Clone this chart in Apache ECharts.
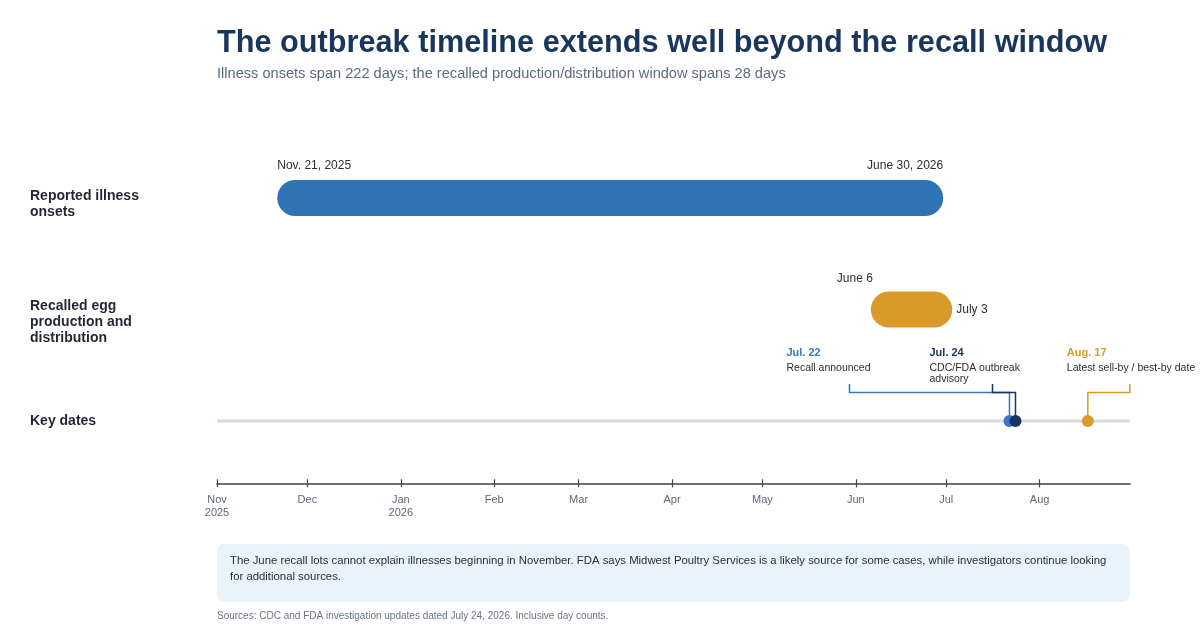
<!DOCTYPE html>
<html>
<head>
<meta charset="utf-8">
<script src="https://cdn.jsdelivr.net/npm/echarts@6/dist/echarts.min.js"></script>
<style>
html,body{margin:0;padding:0;background:#fff;}
#chart{width:1200px;height:633px;}
</style>
</head>
<body>
<div id="chart"></div>
<script>
// ---------------- DATA ----------------
const rowLabels = ['Key dates', 'Recalled egg\nproduction and\ndistribution', 'Reported illness\nonsets'];

const spanRows = [2, 1];
const spanStarts = ['2025-11-21', '2026-06-06'];
const spanEnds = ['2026-06-30', '2026-07-03'];
const spanStartLabels = ['Nov. 21, 2025', 'June 6'];
const spanEndLabels = ['June 30, 2026', 'July 3'];

const keyDates = ['2026-07-22', '2026-07-24', '2026-08-17'];
const keyTitles = ['Jul. 22', 'Jul. 24', 'Aug. 17'];
const keySubtitles = ['Recall announced', 'CDC/FDA outbreak\nadvisory', 'Latest sell-by / best-by date'];

const axisStart = '2025-11-01';
const axisEnd = '2026-08-31';
const monthTicks = ['2025-11-01', '2025-12-01', '2026-01-01', '2026-02-01', '2026-03-01', '2026-04-01',
  '2026-05-01', '2026-06-01', '2026-07-01', '2026-08-01'];
const monthTickLabels = ['Nov\n2025', 'Dec', 'Jan\n2026', 'Feb', 'Mar', 'Apr', 'May', 'Jun', 'Jul', 'Aug'];

const titleText = 'The outbreak timeline extends well beyond the recall window';
const subtitleText = 'Illness onsets span 222 days; the recalled production/distribution window spans 28 days';
const noteText = 'The June recall lots cannot explain illnesses beginning in November. FDA says Midwest Poultry Services is a likely source for some cases, while investigators continue looking\nfor additional sources.';
const sourceText = 'Sources: CDC and FDA investigation updates dated July 24, 2026. Inclusive day counts.';

// ---------------- STYLE / LAYOUT ----------------
const FONT = '"Liberation Sans", Arial, Helvetica, sans-serif';
const spanColors = ['#2e74b5', '#d99a29'];
const keyColors = ['#3579c2', '#17355f', '#d99a29'];
const keyLabelDx = [-223, -86, -21];
const rowLabelShift = [0, 26, 12];

function ts(s) { const p = s.split('-').map(Number); return Date.UTC(p[0], p[1] - 1, p[2]); }

const chart = echarts.init(document.getElementById('chart'));

const spanData = spanRows.map((r, i) => [r, ts(spanStarts[i]), ts(spanEnds[i])]);
const keyData = keyDates.map(d => [ts(d), 0]);
const tickValues = monthTicks.map(ts);

const rich = {};
rowLabels.forEach((l, i) => {
  rich['r' + i] = { fontSize: 14, fontWeight: 'bold', lineHeight: 16, color: '#1f2733', fontFamily: FONT,
    padding: [rowLabelShift[i], 0, 0, 0], align: 'left' };
});

function tickLabel(v) {
  let best = -1, bd = Infinity;
  tickValues.forEach((t, k) => { const d = Math.abs(t - v); if (d < bd) { bd = d; best = k; } });
  return bd < 86400000 ? monthTickLabels[best] : '';
}

const option = {
  animation: false,
  textStyle: { fontFamily: FONT },
  grid: { left: 217, right: 70, top: 142.25, bottom: 156.25 },
  xAxis: [{
    type: 'value',
    min: ts(axisStart),
    max: ts(axisEnd),
    offset: 6.5,
    splitLine: { show: false },
    axisLine: { show: true, lineStyle: { color: '#3e444c', width: 1.6 } },
    axisTick: { show: true, length: 4, customValues: tickValues, lineStyle: { color: '#3e444c', width: 1.2 } },
    axisLabel: {
      color: '#5d6778', fontSize: 11, lineHeight: 13, margin: 10,
      fontFamily: FONT, customValues: tickValues,
      formatter: function (v) { return tickLabel(v); }
    }
  }, {
    type: 'value',
    min: ts(axisStart),
    max: ts(axisEnd),
    offset: 6.5,
    position: 'bottom',
    splitLine: { show: false },
    axisLine: { show: false },
    axisTick: { show: true, inside: true, length: 4, customValues: tickValues, lineStyle: { color: '#3e444c', width: 1.2 } },
    axisLabel: { show: false }
  }],
  yAxis: {
    type: 'category',
    data: rowLabels,
    axisLine: { show: false },
    axisTick: { show: false },
    splitLine: { show: false },
    axisLabel: {
      align: 'left', margin: 187, fontFamily: FONT,
      formatter: function (v, i) {
        return v.split('\n').map(s => '{r' + i + '|' + s + '}').join('\n');
      },
      rich: rich
    }
  },
  series: [
    {
      type: 'line',
      data: [[ts(axisStart), 0], [ts(axisEnd), 0]],
      symbol: 'none',
      silent: true,
      lineStyle: { color: '#d6dce5', width: 3 },
      z: 1
    },
    {
      type: 'custom',
      data: spanData,
      encode: { x: [1, 2], y: 0 },
      z: 3,
      renderItem: function (params, api) {
        const i = params.dataIndex;
        const s = api.coord([api.value(1), api.value(0)]);
        const e = api.coord([api.value(2), api.value(0)]);
        const h = 36;
        const children = [{
          type: 'rect',
          shape: { x: s[0], y: s[1] - h / 2, width: e[0] - s[0], height: h, r: h / 2 },
          style: { fill: spanColors[i] }
        }];
        const lblStyle = { fill: '#2b2f36', fontSize: 12, fontFamily: FONT, verticalAlign: 'middle' };
        if (i === 0) {
          children.push({ type: 'text', style: Object.assign({}, lblStyle, { text: spanStartLabels[i], x: s[0], y: s[1] - 32, align: 'left' }) });
          children.push({ type: 'text', style: Object.assign({}, lblStyle, { text: spanEndLabels[i], x: e[0], y: s[1] - 32, align: 'right' }) });
        } else {
          children.push({ type: 'text', style: Object.assign({}, lblStyle, { text: spanStartLabels[i], x: s[0] + 2, y: s[1] - 30.5, align: 'right' }) });
          children.push({ type: 'text', style: Object.assign({}, lblStyle, { text: spanEndLabels[i], x: e[0] + 4, y: s[1] + 0.5, align: 'left' }) });
        }
        return { type: 'group', children: children };
      }
    },
    {
      type: 'custom',
      data: keyData,
      encode: { x: 0, y: 1 },
      z: 4,
      renderItem: function (params, api) {
        const i = params.dataIndex;
        const p = api.coord([api.value(0), api.value(1)]);
        const lx = p[0] + keyLabelDx[i];
        const leadX = lx + 63;
        const hy = p[1] - 28.5;
        const col = keyColors[i];
        return {
          type: 'group',
          children: [
            {
              type: 'polyline',
              shape: { points: [[leadX, p[1] - 37], [leadX, hy], [p[0], hy], [p[0], p[1]]] },
              style: { stroke: col, lineWidth: 1.5, fill: null }
            },
            { type: 'circle', shape: { cx: p[0], cy: p[1], r: 6 }, style: { fill: col } },
            { type: 'text', style: { text: keyTitles[i], x: lx, y: p[1] - 68, fill: col, fontSize: 11, fontWeight: 'bold', fontFamily: FONT, verticalAlign: 'middle', align: 'left' } },
            { type: 'text', style: { text: keySubtitles[i], x: lx, y: p[1] - 58.5, fill: '#2b2f36', fontSize: 10.5, lineHeight: 11, fontFamily: FONT, verticalAlign: 'top', align: 'left' } }
          ]
        };
      }
    }
  ],
  graphic: [
    { type: 'text', left: 217, top: 28, style: { text: titleText, fill: '#1b365d', fontSize: 30.7, fontWeight: 'bold', fontFamily: FONT } },
    { type: 'text', left: 217, top: 66, style: { text: subtitleText, fill: '#5b6b7f', fontSize: 14.6, fontFamily: FONT } },
    { type: 'rect', shape: { x: 217, y: 544, width: 913, height: 58, r: 8 }, style: { fill: '#eaf2fa' } },
    { type: 'text', x: 230, y: 553, style: { text: noteText, fill: '#2b2f36', fontSize: 11.35, lineHeight: 16, fontFamily: FONT } },
    { type: 'text', x: 217, y: 611, style: { text: sourceText, fill: '#6b7585', fontSize: 10, fontFamily: FONT } }
  ]
};
chart.setOption(option);
</script>
</body>
</html>
